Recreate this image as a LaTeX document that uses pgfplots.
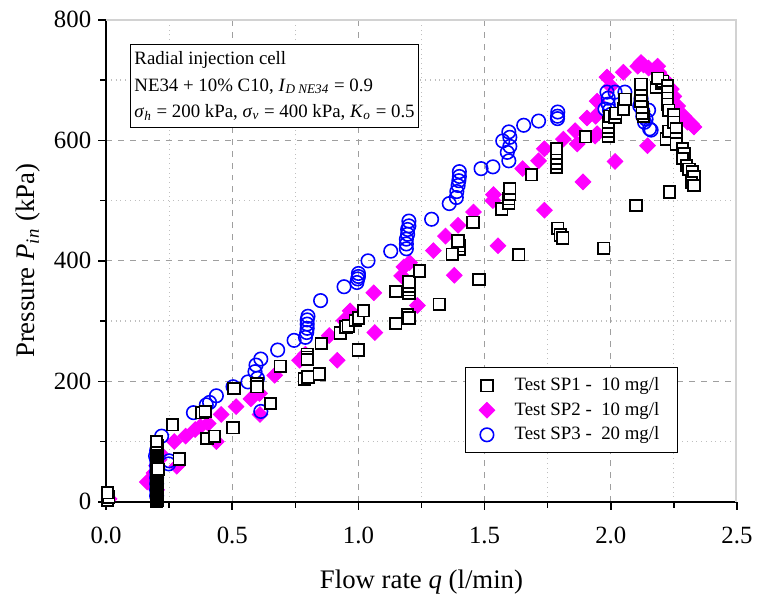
\documentclass[border=0pt]{standalone}
\usepackage{pgfplots}
\pgfplotsset{compat=1.18}
\usepackage{fontspec}
\setmainfont{Liberation Serif}
\definecolor{mag}{RGB}{255,0,255}
\definecolor{blu}{RGB}{0,0,255}
\begin{document}
\begin{tikzpicture}
\begin{axis}[
  scale only axis, width=318pt, height=243pt,
  xmin=0, xmax=2.5, ymin=0, ymax=800,
  axis x line*=bottom, axis y line*=left,
  axis line style={-, line width=1pt, black},
  xtick={0,0.5,...,2.5}, ytick={0,200,...,800},
  minor xtick={0.25,0.75,...,2.25}, minor ytick={100,300,500,700},
  tick align=outside, major tick length=4pt, minor tick length=3pt,
  tick style={black, line width=0.8pt},
  xticklabel style={/pgf/number format/fixed, /pgf/number format/fixed zerofill, /pgf/number format/precision=1, yshift=-5pt},
  /pgf/number format/assume math mode=true,
  ticklabel style={font=\fontsize{12.5}{14}\selectfont},
  grid=both,
  major grid style={dashed, gray!75, line width=0.5pt},
  minor grid style={dotted, gray!50, line width=0.6pt},
  xlabel={Flow rate \textit{q} (l/min)},
  ylabel={Pressure \textit{P}\textsubscript{\textit{in}} (kPa)},
  xlabel style={yshift=-6.5pt},
  label style={font=\fontsize{13.5}{15}\selectfont},
  legend style={draw=black, fill=white, font=\fontsize{9.5}{11.5}\selectfont, at={(0.906,0.101)}, anchor=south east, row sep=0.3pt, inner xsep=7pt, inner ysep=3pt,
    /tikz/every odd column/.append style={column sep=8pt}},
  legend cell align=left,
  sp1/.style={only marks, mark=square*, mark size=2.9pt, mark options={fill=white, draw=black, line width=0.9pt}},
  sp2/.style={only marks, mark=square*, mark size=2.8pt, mark options={fill=mag, draw=mag, rotate=45}},
  sp3/.style={only marks, mark=o, mark size=3.4pt, mark options={draw=blu, line width=0.8pt}},
]
\addlegendimage{sp1}
\addlegendentry{Test SP1 -\ \ 10 mg/l}
\addlegendimage{sp2}
\addlegendentry{Test SP2 -\ \ 10 mg/l}
\addlegendimage{sp3}
\addlegendentry{Test SP3 -\ \ 20 mg/l}
% SP2 diamonds
\addplot[sp2, forget plot] coordinates {
(0.012,5)(0.163,33)(0.19,48)(0.2,20)(0.2,60)(0.21,70)(0.215,80)(0.28,59)(0.27,100)(0.315,109)
(0.353,120)(0.373,125)(0.405,130)(0.437,100)(0.456,145)(0.515,158)(0.574,171)(0.608,180)(0.61,145)(0.668,210)
(0.767,235)(0.79,245)(0.884,276)(0.916,235)(0.943,301)(0.967,317)(1.061,347)(1.065,281)(1.171,375)(1.18,390)
(1.203,397)(1.234,326)(1.297,417)(1.345,441)(1.38,376)(1.395,459)(1.456,481)(1.535,510)(1.533,500)(1.553,425)
(1.651,553)(1.714,566)(1.737,586)(1.737,484)(1.812,602)(1.859,616)(1.867,594)(1.89,531)(1.906,637)(1.94,640)
(1.946,665)(1.946,611)(1.938,607)(1.985,705)(2.0,690)(2.017,565)(2.05,713)(2.107,723)(2.12,729)(2.13,725)
(2.146,591)(2.15,720)(2.174,718)(2.186,723)(2.19,713)(2.213,701)(2.24,685)(2.25,673)(2.265,657)(2.29,640)
(2.304,630)(2.32,627)(2.33,622)
};
% SP3 circles
\addplot[sp3, forget plot] coordinates {
(0.2,10)(0.2,20)(0.2,30)(0.2,40)(0.2,50)(0.2,60)(0.2,70)(0.196,76)(0.2,85)(0.22,109)
(0.248,63)(0.25,68)(0.346,148)(0.397,161)(0.41,165)(0.437,176)(0.503,191)(0.562,199)(0.59,216)(0.594,227)
(0.6,205)(0.613,237)(0.613,150)(0.68,252)(0.745,268)(0.79,273)(0.795,281)(0.797,288)(0.797,295)(0.797,302)
(0.8,308)(0.85,334)(0.943,357)(0.994,364)(0.997,370)(1.0,374)(1.0,379)(1.038,400)(1.128,416)(1.19,420)
(1.19,428)(1.19,436)(1.195,444)(1.195,452)(1.2,458)(1.2,466)(1.29,469)(1.36,495)(1.388,505)(1.39,515)
(1.395,525)(1.398,533)(1.4,540)(1.4,548)(1.486,553)(1.533,556)(1.572,599)(1.596,614)(1.596,566)(1.59,580)
(1.6,590)(1.6,605)(1.655,625)(1.714,632)(1.789,640)(1.79,647)(1.789,636)(1.985,680)(1.99,670)(1.99,660)
(1.995,650)(1.977,652)(2.0,643)(2.017,680)(2.056,680)(2.115,657)(2.12,665)(2.12,670)(2.127,648)(2.127,640)
(2.134,630)(2.14,635)(2.154,619)(2.16,617)(2.15,650)
};
% SP1 squares
\addplot[sp1, forget plot] coordinates {
(0.005,3)(0.01,8)(0.005,15)
(0.2,0)(0.205,2)(0.2,4)(0.205,6)(0.2,8)(0.205,10)(0.2,12)(0.205,14)(0.2,16)(0.205,18)(0.2,20)(0.205,22)
(0.2,24)(0.205,26)(0.2,28)(0.205,30)(0.2,32)(0.205,34)(0.2,36)(0.205,38)(0.2,40)(0.205,42)(0.2,44)(0.205,46)
(0.2,48)(0.205,50)(0.2,52)(0.205,58)(0.2,60)(0.205,62)(0.2,64)(0.205,66)(0.2,68)(0.205,70)(0.2,72)(0.205,74)
(0.2,76)(0.205,78)(0.2,80)(0.205,82)(0.2,84)(0.205,86)(0.2,88)(0.205,90)(0.2,92)(0.205,94)(0.2,96)(0.2,100)
(0.207,54)
(0.29,71)(0.263,128)(0.38,148)(0.393,150)(0.40,105)(0.43,109)(0.507,188)(0.503,123)(0.598,196)(0.598,191)
(0.652,163)(0.69,225)(0.797,245)(0.797,240)(0.797,236)(0.785,204)(0.80,207)(0.845,212)(0.853,263)(0.928,280)
(0.951,290)(0.96,292)(0.987,301)(1.0,305)(1.02,317)(0.999,252)(1.148,349)(1.2,346)(1.2,352)(1.2,358)
(1.2,365)(1.242,383)(1.148,296)(1.195,311)(1.2,305)(1.32,328)(1.4,419)(1.4,425)(1.395,433)(1.372,411)
(1.454,464)(1.478,369)(1.568,486)(1.596,495)(1.596,503)(1.6,510)(1.6,520)(1.635,410)(1.686,543)(1.785,555)
(1.785,562)(1.785,570)(1.785,578)(1.785,586)(1.79,454)(1.80,443)(1.81,438)(1.9,606)(1.972,421)
(1.99,607)(1.99,615)(1.99,622)(1.99,630)(1.995,640)(2.017,638)(2.02,645)(2.05,652)(2.056,668)
(2.13,640)(2.125,645)(2.125,655)(2.12,665)(2.12,675)(2.12,685)(2.12,693)
(2.18,688)(2.2,695)(2.206,698)(2.186,703)
(2.225,690)(2.225,680)(2.225,670)(2.225,660)(2.23,650)(2.22,602)(2.23,615)(2.25,643)(2.25,630)(2.26,619)
(2.26,602)(2.26,594)(2.284,586)(2.29,578)(2.284,570)(2.3,558)(2.31,552)(2.323,548)(2.33,540)(2.32,530)
(2.33,525)(2.233,514)(2.10,492)
};
\draw[gray!35, line width=1.5pt] (rel axis cs:0,1) -- (rel axis cs:1,1) -- (rel axis cs:1,0);
\node[draw=black, fill=white, anchor=north west, align=left, inner xsep=2pt, inner ysep=3.5pt,
      font=\fontsize{9.5}{13.3}\selectfont] at (rel axis cs:0.038,0.949)
  {Radial injection cell\\
   NE34 + 10\% C10, \textit{I}\textsubscript{\textit{D NE34}} = 0.9\\
   \textit{σ}\textsubscript{\textit{h}} = 200 kPa, \textit{σ}\textsubscript{\textit{v}} = 400 kPa, \textit{K}\textsubscript{\textit{o}} = 0.5};
\end{axis}
\path ([xshift=-53.5pt,yshift=-46.5pt]current axis.south west) rectangle ([xshift=8pt,yshift=10pt]current axis.north east);
\end{tikzpicture}
\end{document}
